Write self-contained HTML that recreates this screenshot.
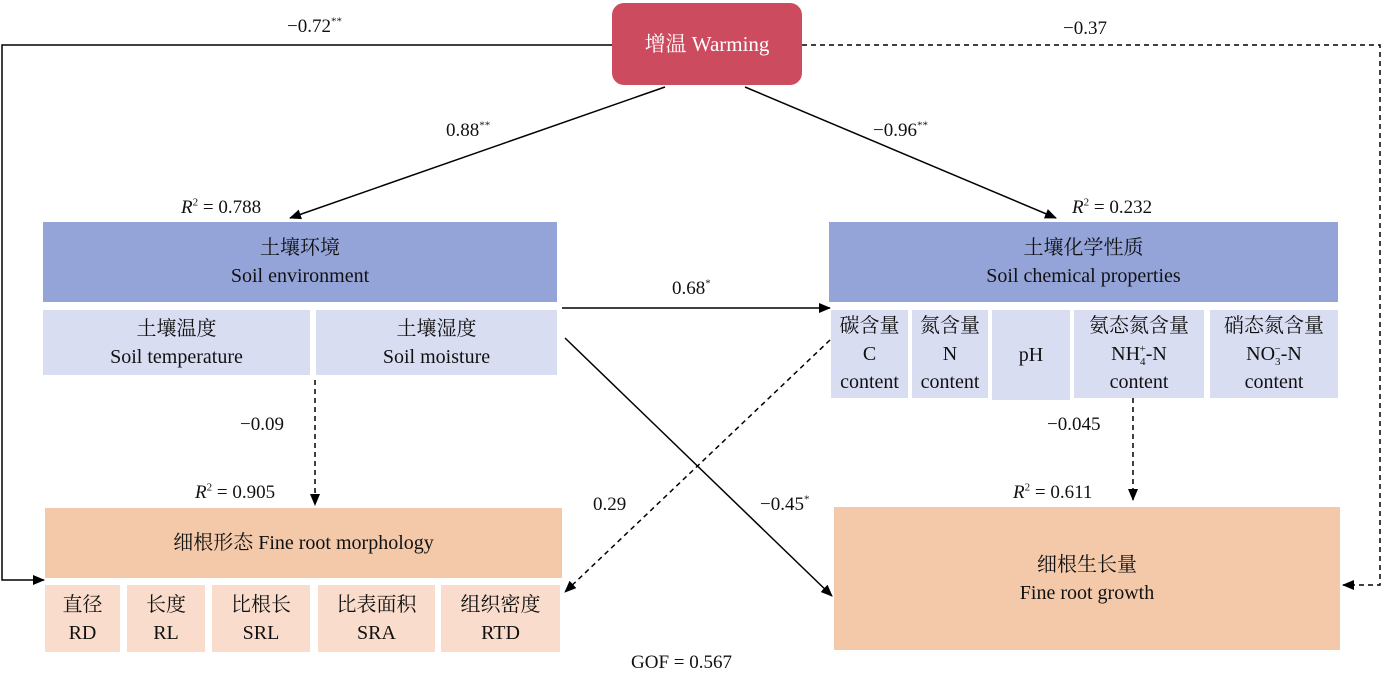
<!DOCTYPE html><html><head><meta charset="utf-8"><style>
body{margin:0;width:1385px;height:673px;background:#fff;position:relative;overflow:hidden;font-family:"Liberation Serif","Noto Serif CJK SC",serif;color:#111}
.b{position:absolute;display:flex;flex-direction:column;align-items:center;justify-content:center;text-align:center;font-size:20px;line-height:28px}
.t{position:absolute;font-size:19px;white-space:nowrap}
sup,sub{font-size:11px;line-height:0}
</style></head><body>
<svg width="1385" height="673" style="position:absolute;left:0;top:0">
<defs><marker id="a" markerWidth="12" markerHeight="10" refX="11" refY="5" orient="auto" markerUnits="userSpaceOnUse"><path d="M0,0 L12,5 L0,10 z" fill="#000"/></marker></defs>
<g stroke="#000" stroke-width="1.5" fill="none">
<polyline points="612,45 2,45 2,580 44,580" marker-end="url(#a)"/>
<polyline points="802,45 1380,45 1380,585 1343,585" stroke-dasharray="5,4" marker-end="url(#a)"/>
<line x1="665" y1="87" x2="290" y2="218" marker-end="url(#a)"/>
<line x1="745" y1="87" x2="1056" y2="218" marker-end="url(#a)"/>
<line x1="562" y1="308" x2="830" y2="308" marker-end="url(#a)"/>
<line x1="315" y1="380" x2="315" y2="505" stroke-dasharray="5,4" marker-end="url(#a)"/>
<line x1="830" y1="340" x2="565" y2="592" stroke-dasharray="5,4" marker-end="url(#a)"/>
<line x1="565" y1="338" x2="832" y2="596" marker-end="url(#a)"/>
<line x1="1133" y1="398" x2="1133" y2="500" stroke-dasharray="5,4" marker-end="url(#a)"/>
</g></svg>
<div class="b" style="left:612px;top:3px;width:190px;height:82px;background:#cc4b5f;border-radius:12px;color:#fff;font-size:21px">增温 Warming</div>
<div class="b" style="left:43px;top:222px;width:514px;height:80px;background:#95a4d8"><div>土壤环境</div><div>Soil environment</div></div>
<div class="b" style="left:43px;top:310px;width:267px;height:65px;background:#d8ddf2"><div>土壤温度</div><div>Soil temperature</div></div>
<div class="b" style="left:316px;top:310px;width:241px;height:65px;background:#d8ddf2"><div>土壤湿度</div><div>Soil moisture</div></div>
<div class="b" style="left:829px;top:222px;width:509px;height:80px;background:#95a4d8"><div>土壤化学性质</div><div>Soil chemical properties</div></div>
<div class="b" style="left:831px;top:310px;width:77px;height:88px;background:#d8ddf2"><div>碳含量</div><div>C</div><div>content</div></div>
<div class="b" style="left:912px;top:310px;width:76px;height:88px;background:#d8ddf2"><div>氮含量</div><div>N</div><div>content</div></div>
<div class="b" style="left:992px;top:310px;width:78px;height:90px;background:#d8ddf2">pH</div>
<div class="b" style="left:1074px;top:310px;width:130px;height:88px;background:#d8ddf2"><div style="height:28px">氨态氮含量</div><div style="height:28px">NH<sub>4</sub><sup style="margin-left:-6px">+</sup>-N</div><div style="height:28px">content</div></div>
<div class="b" style="left:1210px;top:310px;width:128px;height:88px;background:#d8ddf2"><div style="height:28px">硝态氮含量</div><div style="height:28px">NO<sub>3</sub><sup style="margin-left:-6px">−</sup>-N</div><div style="height:28px">content</div></div>
<div class="b" style="left:45px;top:508px;width:517px;height:70px;background:#f3c9aa">细根形态 Fine root morphology</div>
<div class="b" style="left:45px;top:585px;width:75px;height:67px;background:#f9dccb"><div>直径</div><div>RD</div></div>
<div class="b" style="left:127px;top:585px;width:78px;height:67px;background:#f9dccb"><div>长度</div><div>RL</div></div>
<div class="b" style="left:212px;top:585px;width:98px;height:67px;background:#f9dccb"><div>比根长</div><div>SRL</div></div>
<div class="b" style="left:318px;top:585px;width:117px;height:67px;background:#f9dccb"><div>比表面积</div><div>SRA</div></div>
<div class="b" style="left:441px;top:585px;width:119px;height:67px;background:#f9dccb"><div>组织密度</div><div>RTD</div></div>
<div class="b" style="left:834px;top:507px;width:506px;height:143px;background:#f3c9aa"><div>细根生长量</div><div>Fine root growth</div></div>
<div class="t" style="left:287px;top:16px">−0.72<sup>**</sup></div>
<div class="t" style="left:1063px;top:18px">−0.37</div>
<div class="t" style="left:446px;top:120px">0.88<sup>**</sup></div>
<div class="t" style="left:873px;top:120px">−0.96<sup>**</sup></div>
<div class="t" style="left:181px;top:197px"><i>R</i><sup>2</sup> = 0.788</div>
<div class="t" style="left:1072px;top:197px"><i>R</i><sup>2</sup> = 0.232</div>
<div class="t" style="left:672px;top:278px">0.68<sup>*</sup></div>
<div class="t" style="left:240px;top:414px">−0.09</div>
<div class="t" style="left:1047px;top:414px">−0.045</div>
<div class="t" style="left:195px;top:482px"><i>R</i><sup>2</sup> = 0.905</div>
<div class="t" style="left:1013px;top:482px"><i>R</i><sup>2</sup> = 0.611</div>
<div class="t" style="left:593px;top:494px">0.29</div>
<div class="t" style="left:760px;top:494px">−0.45<sup>*</sup></div>
<div class="t" style="left:631px;top:652px">GOF = 0.567</div>
</body></html>
